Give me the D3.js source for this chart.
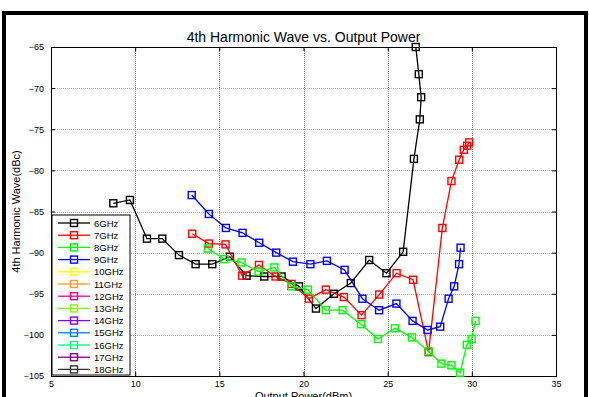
<!DOCTYPE html>
<html>
<head>
<meta charset="utf-8">
<script src="https://cdn.jsdelivr.net/npm/d3@7"></script>
<style>
  body { margin: 0; background: #fff; }
  svg { display: block; font-family: "Liberation Sans", Arial, sans-serif; }
</style>
</head>
<body>
<div id="chart"></div>
<script>
// series names + colours in legend order
const freqs = ['6GHz', '7GHz', '8GHz', '9GHz', '10GHz', '11GHz', '12GHz', '13GHz', '14GHz', '15GHz', '16GHz', '17GHz', '18GHz'];
const colors = ['#000000', '#ff0000', '#00ff00', '#0000ff', '#ffff00', '#ff9933', '#ff0080', '#80ff00', '#8000ff', '#0080ff', '#00ff80', '#800080', '#333333'];

// output power (dBm) / 4th harmonic (dBc)
const pout6 = [8.70, 9.69, 10.70, 11.61, 12.60, 13.59, 14.58, 15.63, 16.62, 17.67, 18.70, 19.73, 20.74, 21.81, 22.81, 23.90, 24.93, 25.92, 26.56, 26.91, 26.99, 26.85, 26.67];
const h4_6 = [-84.0, -83.6, -88.3, -88.3, -90.3, -91.4, -91.4, -90.5, -92.8, -92.9, -92.9, -94.1, -96.8, -95.0, -93.7, -90.9, -92.5, -89.9, -78.6, -73.8, -71.1, -68.3, -65.0];

const pout7 = [13.39, 14.38, 15.37, 16.36, 17.35, 18.34, 19.29, 20.32, 21.33, 22.40, 23.45, 24.50, 25.53, 26.51, 27.43, 28.25, 28.79, 29.25, 29.52, 29.72, 29.84];
const h4_7 = [-87.7, -88.9, -89.0, -92.8, -91.5, -92.9, -93.8, -95.6, -94.5, -95.4, -97.6, -95.1, -92.5, -93.3, -102.1, -87.0, -81.3, -78.7, -77.5, -77.0, -76.6];

const pout8 = [14.32, 15.30, 16.32, 17.33, 18.27, 19.27, 20.26, 21.32, 22.32, 23.41, 24.42, 25.43, 26.44, 27.43, 28.19, 28.79, 29.30, 29.70, 29.99, 30.22];
const h4_8 = [-89.5, -90.8, -91.2, -92.3, -91.8, -94.1, -94.5, -97.0, -97.0, -98.7, -100.5, -99.2, -100.3, -102.0, -103.5, -103.7, -104.6, -101.2, -100.5, -98.3];

const pout9 = [13.36, 14.38, 15.39, 16.38, 17.37, 18.38, 19.37, 20.41, 21.39, 22.44, 23.50, 24.49, 25.52, 26.48, 27.37, 28.12, 28.62, 28.95, 29.24, 29.33];
const h4_9 = [-83.0, -85.3, -87.0, -87.6, -88.8, -90.0, -91.1, -91.4, -91.0, -92.1, -95.6, -97.0, -96.2, -98.3, -99.4, -99.0, -95.6, -94.1, -91.4, -89.4];

const xTicks = [5, 10, 15, 20, 25, 30, 35];
const yTicks = [-105, -100, -95, -90, -85, -80, -75, -70, -65];

const series = [
    {name: freqs[0], color: colors[0], x: pout6, y: h4_6},
    {name: freqs[1], color: colors[1], x: pout7, y: h4_7},
    {name: freqs[2], color: colors[2], x: pout8, y: h4_8},
    {name: freqs[3], color: colors[3], x: pout9, y: h4_9}
];

const width = 589, height = 397;
const plot = {left: 51, right: 556, top: 47, bottom: 376};

const svg = d3.select('#chart').append('svg')
    .attr('width', width)
    .attr('height', height);

// figure frame
svg.append('rect')
    .attr('x', 4).attr('y', 13)
    .attr('width', 582).attr('height', 400)
    .attr('fill', '#fff')
    .attr('stroke', '#000')
    .attr('stroke-width', 4);

const x = d3.scaleLinear().domain([5, 35]).range([plot.left, plot.right]);
const y = d3.scaleLinear().domain([-105, -65]).range([plot.bottom, plot.top]);

// grid
const grid = svg.append('g').attr('class', 'grid');
grid.selectAll('.hgrid')
    .data(yTicks.slice(1, -1))
    .enter().append('line')
    .attr('x1', plot.left).attr('x2', plot.right)
    .attr('y1', d => Math.round(y(d)) + 0.5).attr('y2', d => Math.round(y(d)) + 0.5)
    .attr('stroke', '#aaa')
    .attr('stroke-dasharray', '1,1');
grid.selectAll('.vgrid')
    .data(xTicks.slice(1, -1))
    .enter().append('line')
    .attr('y1', plot.top).attr('y2', plot.bottom)
    .attr('x1', d => Math.round(x(d)) + 0.5).attr('x2', d => Math.round(x(d)) + 0.5)
    .attr('stroke', '#777')
    .attr('stroke-dasharray', '1,1');

// axes, ticks pointing inward like matlab
const fontTick = 9;
const gx = svg.append('g')
    .attr('transform', `translate(0,${plot.bottom})`)
    .call(d3.axisBottom(x).tickValues(xTicks).tickSize(-4).tickPadding(5).tickFormat(d3.format('d')));
const gxTop = svg.append('g')
    .attr('transform', `translate(0,${plot.top})`)
    .call(d3.axisTop(x).tickValues(xTicks).tickSize(-4).tickFormat(''));
const gy = svg.append('g')
    .attr('transform', `translate(${plot.left},0)`)
    .call(d3.axisLeft(y).tickValues(yTicks).tickSize(-4).tickPadding(7).tickFormat(d3.format('d')));
const gyRight = svg.append('g')
    .attr('transform', `translate(${plot.right},0)`)
    .call(d3.axisRight(y).tickValues(yTicks).tickSize(-4).tickFormat(''));

[gx, gxTop, gy, gyRight].forEach(g => {
    g.select('.domain').attr('stroke', '#000').attr('stroke-width', 1);
    g.selectAll('.tick line').attr('stroke', '#000');
    g.selectAll('.tick text')
        .attr('font-size', fontTick)
        .attr('font-family', '"Liberation Sans", Arial, sans-serif')
        .attr('fill', '#000');
});

// series
const line = d3.line().x(d => x(d[0])).y(d => y(d[1]));
const msize = 7;
series.forEach(s => {
    const pts = s.x.map((v, i) => [v, s.y[i]]);
    svg.append('path')
        .datum(pts)
        .attr('d', line)
        .attr('fill', 'none')
        .attr('stroke', s.color)
        .attr('stroke-width', 1.3);
    svg.append('g').selectAll('rect')
        .data(pts)
        .enter().append('rect')
        .attr('x', d => x(d[0]) - msize / 2)
        .attr('y', d => y(d[1]) - msize / 2)
        .attr('width', msize)
        .attr('height', msize)
        .attr('fill', 'none')
        .attr('stroke', s.color)
        .attr('stroke-width', 1.4);
});

// title and labels
svg.append('text')
    .attr('x', (plot.left + plot.right) / 2)
    .attr('y', 42)
    .attr('text-anchor', 'middle')
    .attr('font-size', 14)
    .text('4th Harmonic Wave vs. Output Power');

svg.append('text')
    .attr('x', (plot.left + plot.right) / 2)
    .attr('y', 400)
    .attr('text-anchor', 'middle')
    .attr('font-size', 11)
    .text('Output Power(dBm)');

svg.append('text')
    .attr('transform', `translate(20,${(plot.top + plot.bottom) / 2}) rotate(-90)`)
    .attr('text-anchor', 'middle')
    .attr('font-size', 11)
    .text('4th Harmonic Wave(dBc)');

// legend
const legend = svg.append('g').attr('transform', 'translate(52,215)');
legend.append('rect')
    .attr('width', 78).attr('height', 160)
    .attr('fill', '#fff')
    .attr('stroke', '#000')
    .attr('stroke-width', 1);
const item = legend.selectAll('.item')
    .data(freqs)
    .enter().append('g')
    .attr('transform', (d, i) => `translate(0,${8 + i * 12.2})`);
item.append('line')
    .attr('x1', 6).attr('x2', 38)
    .attr('stroke', (d, i) => colors[i])
    .attr('stroke-width', 1.3);
item.append('rect')
    .attr('x', 22 - msize / 2).attr('y', -msize / 2)
    .attr('width', msize).attr('height', msize)
    .attr('fill', 'none')
    .attr('stroke', (d, i) => colors[i])
    .attr('stroke-width', 1.4);
item.append('text')
    .attr('x', 42).attr('y', 3.5)
    .attr('font-size', 9.5)
    .text(d => d);
</script>
</body>
</html>
